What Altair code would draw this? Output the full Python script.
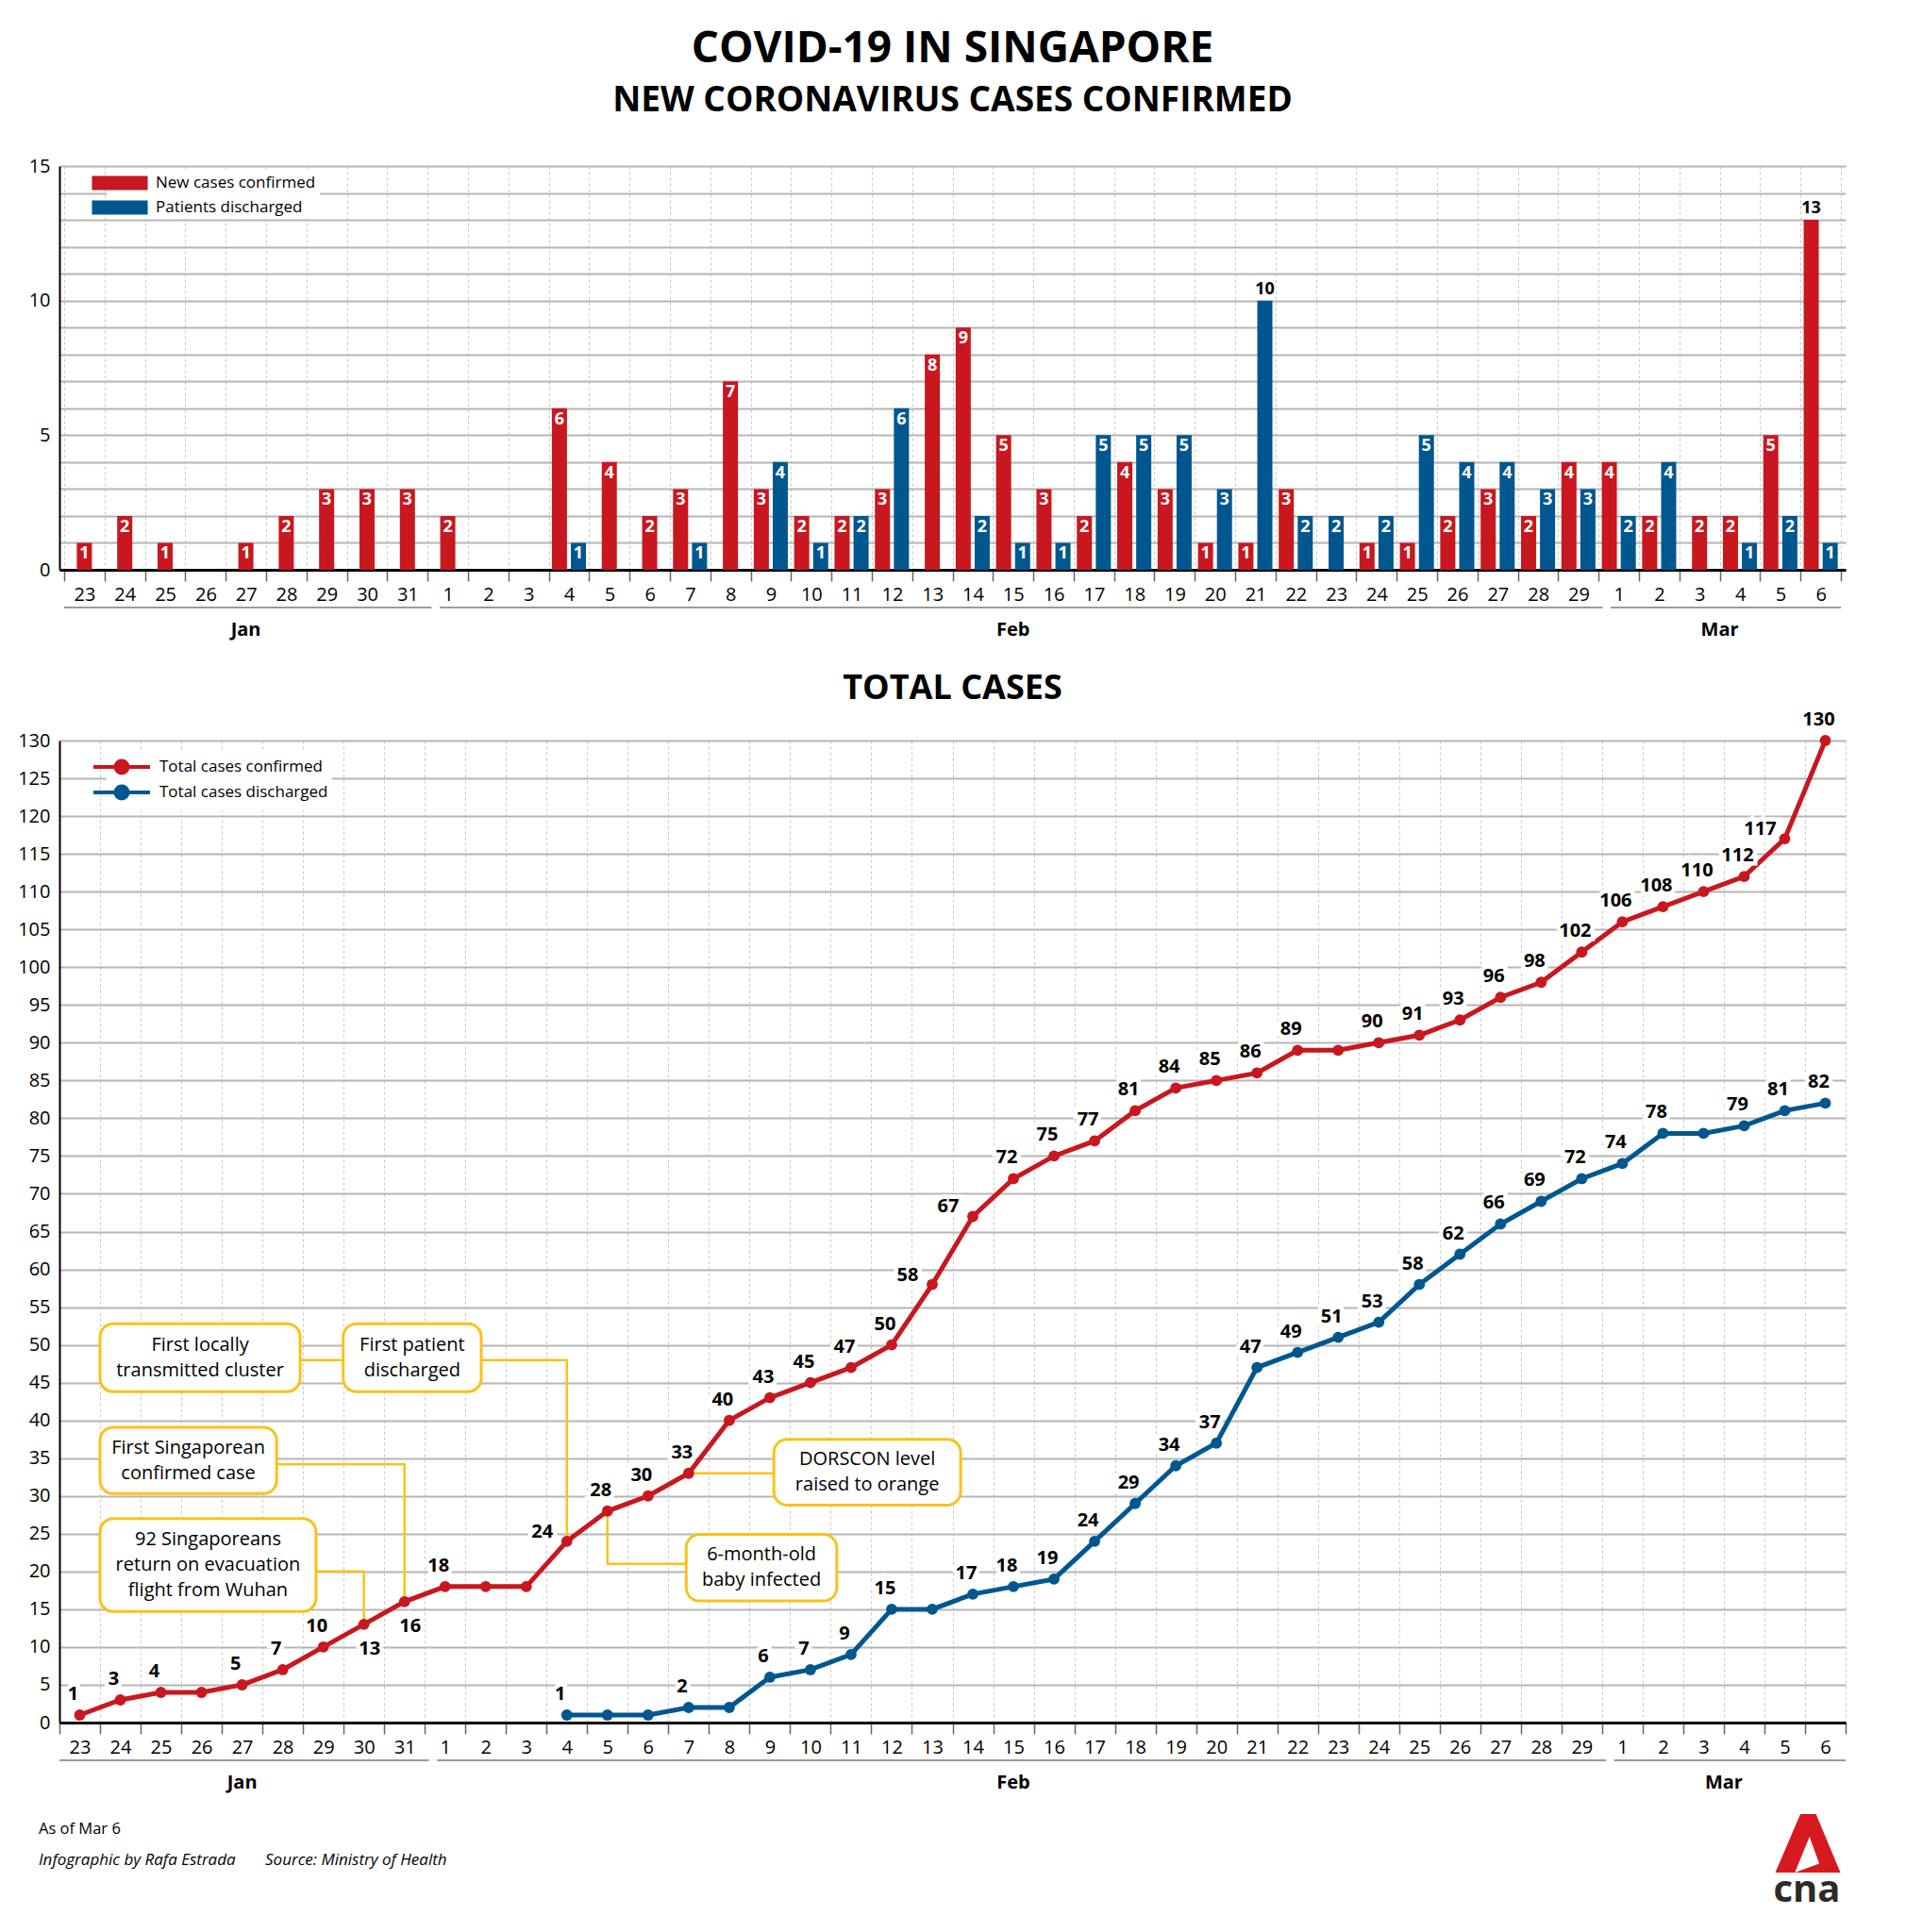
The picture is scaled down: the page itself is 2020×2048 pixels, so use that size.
import json

import altair as alt
import pandas as pd

DAYS = [str(d) for d in range(23, 32)] + [str(d) for d in range(1, 30)] + [str(d) for d in range(1, 7)]
MONTHS = ["Jan", "Feb", "Mar"]
MONTH_DAYS = [9, 29, 6]

NEW_CASES = [1, 2, 1, 0, 1, 2, 3, 3, 3,
             2, 0, 0, 6, 4, 2, 3, 7, 3, 2, 2, 3, 8, 9, 5, 3, 2, 4, 3, 1, 1, 3, 0, 1, 1, 2, 3, 2, 4,
             4, 2, 2, 2, 5, 13]
DISCHARGED = [0, 0, 0, 0, 0, 0, 0, 0, 0,
              0, 0, 0, 1, 0, 0, 1, 0, 4, 1, 2, 6, 0, 2, 1, 1, 5, 5, 5, 3, 10, 2, 2, 2, 5, 4, 4, 3, 3,
              2, 4, 0, 1, 2, 1]
TOTAL_CONFIRMED = [1, 3, 4, 4, 5, 7, 10, 13, 16,
                   18, 18, 18, 24, 28, 30, 33, 40, 43, 45, 47, 50, 58, 67, 72, 75, 77, 81, 84, 85,
                   86, 89, 89, 90, 91, 93, 96, 98, 102,
                   106, 108, 110, 112, 117, 130]
TOTAL_DISCHARGED = [None] * 12 + [1, 1, 1, 2, 2, 6, 7, 9, 15, 15, 17, 18, 19, 24, 29, 34, 37, 47,
                                  49, 51, 53, 58, 62, 66, 69, 72,
                                  74, 78, 78, 79, 81, 82]

BAR_SERIES = ["New cases confirmed", "Patients discharged"]
LINE_SERIES = ["Total cases confirmed", "Total cases discharged"]

# callouts: text, day-index span, value span
NOTES = [
    ("First locally\ntransmitted cluster", 0.5, 5.43, 43.8, 52.8),
    ("First patient\ndischarged", 6.49, 9.89, 43.8, 52.8),
    ("First Singaporean\nconfirmed case", 0.5, 4.85, 30.3, 39.1),
    ("92 Singaporeans\nreturn on evacuation\nflight from Wuhan", 0.5, 5.82, 14.7, 27.0),
    ("DORSCON level\nraised to orange", 17.1, 21.7, 28.8, 37.5),
    ("6-month-old\nbaby infected", 14.94, 18.65, 16.1, 24.9),
]
LEADERS = [
    [(5.43, 48), (6.49, 48)],
    [(9.89, 48), (12, 48), (12, 24)],
    [(4.85, 34.2), (8, 34.2), (8, 16)],
    [(5.82, 20), (7, 20), (7, 13)],
    [(15, 33), (17.1, 33)],
    [(13, 28), (13, 21), (14.94, 21)],
]

# ---- style ----
RED = "#c8171e"
BLUE = "#00578f"
YELLOW = "#f9c21a"
FONT = "Open Sans"
W, H1, H2 = 1893, 428, 1041
BAND = W / len(DAYS)
PAIR_SHIFT = 0.235
LABEL_BELOW = {(LINE_SERIES[0], 7), (LINE_SERIES[0], 8)}
LABEL_LEFT = {(LINE_SERIES[0], 12), (LINE_SERIES[0], 21), (LINE_SERIES[0], 22), (LINE_SERIES[0], 42)}
LOGO = "M-1,0.9L-0.23,-0.9L0.25,-0.9L1,0.9ZM-0.4,0.9L0.35,0.62L0.05,-0.2Z"

n = len(DAYS)
xscale = alt.Scale(domain=[-0.5, n - 0.5], nice=False, zero=False)
xaxis = alt.Axis(
    values=[i - 0.5 for i in range(n + 1)],
    labelExpr=f"{json.dumps(DAYS)}[round(datum.value + 0.5)] || ''",
    labelOffset=BAND / 2, labelFlush=False, labelOverlap=False, labelBound=False,
    labelFontSize=20, labelColor="black", labelPadding=4,
    grid=True, gridDash=[3, 3], gridColor="#c8c8c8", gridWidth=1,
    tickSize=12, tickColor="#666666", tickWidth=1.5,
    domainColor="black", domainWidth=3, title=None,
)
yscale1 = alt.Scale(domain=[0, 15], nice=False)
yaxis1 = alt.Axis(values=list(range(16)), labelExpr="datum.value % 5 == 0 ? datum.label : ''",
                  grid=True, gridColor="#b5b5b5", gridWidth=2, ticks=False,
                  domainColor="black", domainWidth=2, labelFontSize=20, labelColor="black",
                  labelPadding=10, title=None)
yscale2 = alt.Scale(domain=[0, 130], nice=False)
yaxis2 = alt.Axis(values=list(range(0, 131, 5)), grid=True, gridColor="#b5b5b5", gridWidth=2,
                  ticks=False, domainColor="black", domainWidth=2, labelFontSize=20,
                  labelColor="black", labelPadding=10, title=None)


def X(field):
    return alt.X(field, scale=xscale, axis=xaxis)


def Y1(field):
    return alt.Y(field, scale=yscale1, axis=yaxis1)


def Y2(field):
    return alt.Y(field, scale=yscale2, axis=yaxis2)


# month strip below the day labels
mrows, start = [], 0
for k, (m, cnt) in enumerate(zip(MONTHS, MONTH_DAYS)):
    lo, hi = start - 0.5, start + cnt - 0.5
    mrows.append(dict(month=m, x1=lo + (0.3 if k else 0), x2=hi + (0.1 if k < 2 else 0), mid=(lo + hi) / 2))
    start += cnt
months_df = pd.DataFrame(mrows)


def month_strip(h):
    rules = alt.Chart(months_df).mark_rule(color="#9a9a9a", strokeWidth=2).encode(
        x=X("x1:Q"), x2="x2:Q", y=alt.value(h + 40))
    names = alt.Chart(months_df).mark_text(font=FONT, fontSize=20, fontWeight="bold").encode(
        x=X("mid:Q"), y=alt.value(h + 64), text="month:N")
    return [rules, names]


# ---- daily bars ----
rows = []
for i in range(n):
    both = NEW_CASES[i] > 0 and DISCHARGED[i] > 0
    for name, vals, side in [(BAR_SERIES[0], NEW_CASES, -1), (BAR_SERIES[1], DISCHARGED, 1)]:
        if vals[i]:
            rows.append(dict(pos=i + (side * PAIR_SHIFT if both else 0), series=name, value=vals[i]))
bars_df = pd.DataFrame(rows)

bars = alt.Chart(bars_df).mark_bar(size=16).encode(
    x=X("pos:Q"),
    y=Y1("value:Q"),
    color=alt.Color("series:N", scale=alt.Scale(domain=BAR_SERIES, range=[RED, BLUE]),
                    legend=alt.Legend(title=None, orient="none", legendX=50, legendY=4,
                                      fillColor="white", padding=4,
                                      symbolType="M-3,-0.75L3,-0.75L3,0.75L-3,0.75Z",
                                      symbolSize=388, symbolStrokeWidth=0, labelOffset=28,
                                      labelFontSize=17, labelFont=FONT, labelLimit=400,
                                      rowPadding=8)),
)
in_labels = alt.Chart(bars_df).transform_filter("datum.value < 10").mark_text(
    font=FONT, fontSize=18, fontWeight="bold", color="white", baseline="top", dy=3).encode(
    x=X("pos:Q"), y=Y1("value:Q"), text="value:Q")
out_labels = alt.Chart(bars_df).transform_filter("datum.value >= 10").mark_text(
    font=FONT, fontSize=18, fontWeight="bold", color="black", baseline="bottom", dy=-3).encode(
    x=X("pos:Q"), y=Y1("value:Q"), text="value:Q")

top = alt.layer(bars, in_labels, out_labels, *month_strip(H1)).properties(width=W, height=H1)

# ---- cumulative lines ----
lrows = []
for name, vals in zip(LINE_SERIES, [TOTAL_CONFIRMED, TOTAL_DISCHARGED]):
    prev = None
    for i, v in enumerate(vals):
        if v is None:
            continue
        place = "below" if (name, i) in LABEL_BELOW else "left" if (name, i) in LABEL_LEFT else "above"
        lrows.append(dict(idx=i, series=name, value=v, show=v != prev, place=place))
        prev = v
lines_df = pd.DataFrame(lrows)

color2 = alt.Color("series:N", scale=alt.Scale(domain=LINE_SERIES, range=[RED, BLUE]),
                   legend=alt.Legend(title=None, orient="none", legendX=50, legendY=12,
                                     fillColor="white", padding=4,
                                     symbolType="M-3,0L3,0M0.65,0A0.65,0.65,0,1,1,-0.65,0A0.65,0.65,0,1,1,0.65,0Z",
                                     symbolSize=400, symbolStrokeWidth=4, labelOffset=28,
                                     labelFontSize=17, labelFont=FONT, labelLimit=400, rowPadding=-8))

line = alt.Chart(lines_df).mark_line(strokeWidth=5).encode(x=X("idx:Q"), y=Y2("value:Q"), color=color2)
dots = alt.Chart(lines_df).mark_circle(size=140, opacity=1).encode(
    x=X("idx:Q"), y=Y2("value:Q"), color=color2)

label_layers = []
for place, dx, dy in [("above", -7, -22), ("below", 6, 26), ("left", -26, -10)]:
    base = alt.Chart(lines_df).transform_filter(f"datum.show && datum.place == '{place}'")
    enc = dict(x=X("idx:Q"), y=Y2("value:Q"), text="value:Q")
    label_layers.append(base.mark_text(font=FONT, fontSize=20, fontWeight="bold", dx=dx, dy=dy,
                                       stroke="white", strokeWidth=9, color="white").encode(**enc))
    label_layers.append(base.mark_text(font=FONT, fontSize=20, fontWeight="bold", dx=dx, dy=dy,
                                       color="black").encode(**enc))

notes_df = pd.DataFrame(NOTES, columns=["text", "x1", "x2", "y1", "y2"])
notes_df["xm"] = (notes_df.x1 + notes_df.x2) / 2
notes_df["ym"] = (notes_df.y1 + notes_df.y2) / 2
notes_df["lines"] = notes_df.text.str.count("\n") + 1
lead_df = pd.DataFrame([dict(id=k, seq=j, x=p[0], y=p[1]) for k, pts in enumerate(LEADERS) for j, p in enumerate(pts)])

leaders = alt.Chart(lead_df).mark_line(color=YELLOW, strokeWidth=2.5).encode(
    x=X("x:Q"), y=Y2("y:Q"), detail="id:N", order="seq:Q")
boxes = alt.Chart(notes_df).mark_rect(fill="white", stroke=YELLOW, strokeWidth=3, cornerRadius=14).encode(
    x=X("x1:Q"), x2="x2:Q", y=Y2("y1:Q"), y2="y2:Q")
LINE_H = 27
box_text = [
    alt.Chart(notes_df).transform_filter(f"datum.lines == {k}").mark_text(
        font=FONT, fontSize=20, lineBreak="\n", lineHeight=LINE_H, baseline="middle",
        dy=-(k - 1) * LINE_H / 2).encode(x=X("xm:Q"), y=Y2("ym:Q"), text="text:N")
    for k in (2, 3)
]

foot = alt.Chart(pd.DataFrame({"t": ["As of Mar 6"]})).mark_text(
    font=FONT, fontSize=16.5, align="left").encode(x=alt.value(-22), y=alt.value(H2 + 113), text="t:N")
credit = alt.Chart(pd.DataFrame({"t": ["Infographic by Rafa Estrada"]})).mark_text(
    font=FONT, fontSize=17, fontStyle="italic", align="left").encode(
    x=alt.value(-22), y=alt.value(H2 + 146), text="t:N")
source = alt.Chart(pd.DataFrame({"t": ["Source: Ministry of Health"]})).mark_text(
    font=FONT, fontSize=17, fontStyle="italic", align="left").encode(
    x=alt.value(218), y=alt.value(H2 + 146), text="t:N")
logo = alt.Chart(pd.DataFrame({"t": ["cna"]})).mark_point(
    shape=LOGO, filled=True, color="#d71920", opacity=1, size=4761).encode(
    x=alt.value(1853), y=alt.value(H2 + 128))
logo_text = alt.Chart(pd.DataFrame({"t": ["cna"]})).mark_text(
    font=FONT, fontSize=40, fontWeight="bold", color="#2e2a27").encode(
    x=alt.value(1852), y=alt.value(H2 + 178), text="t:N")

bottom = alt.layer(
    line, leaders, boxes, *box_text, dots, *label_layers, *month_strip(H2),
    foot, credit, source, logo, logo_text,
).properties(
    width=W, height=H2,
    title=alt.TitleParams("TOTAL CASES", font=FONT, fontSize=36, fontWeight="bold",
                          color="black", anchor="middle", frame="group", offset=4),
)

chart = alt.vconcat(top, bottom, spacing=181, bounds="flush").resolve_scale(
    color="independent"
).properties(
    title=alt.TitleParams(
        "COVID-19 IN SINGAPORE", subtitle="NEW CORONAVIRUS CASES CONFIRMED",
        font=FONT, fontSize=46, fontWeight="bold", color="black",
        subtitleFont=FONT, subtitleFontSize=37, subtitleFontWeight="bold",
        subtitleColor="black", subtitlePadding=13, anchor="middle", frame="group", offset=40,
    ),
    padding={"left": 10, "top": 21, "right": 10, "bottom": 10},
).configure(font=FONT).configure_view(stroke=None)

chart.save("out.html", embed_options={"renderer": "svg", "actions": False})
